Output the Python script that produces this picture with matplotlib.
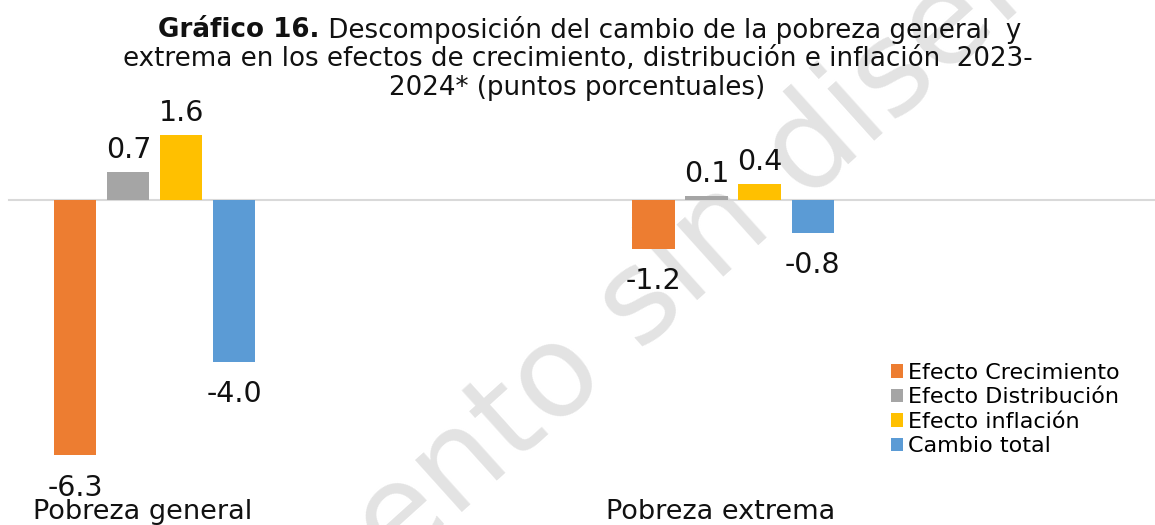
import matplotlib
matplotlib.use("Agg")
import matplotlib.pyplot as plt
import matplotlib.transforms as mtransforms
import numpy as np

# Data (puntos porcentuales)
categories = ["Pobreza general", "Pobreza extrema"]
series = ["Efecto Crecimiento", "Efecto Distribución", "Efecto inflación", "Cambio total"]
crecimiento = [-6.3, -1.2]
distribucion = [0.7, 0.1]
inflacion = [1.6, 0.4]
cambio_total = [-4.0, -0.8]
values = [crecimiento, distribucion, inflacion, cambio_total]
colors = ["#ED7D31", "#A5A5A5", "#FFC000", "#5B9BD5"]

font = "DejaVu Sans"
W, H = 1155, 525
fig = plt.figure(figsize=(W / 100, H / 100), dpi=100)
ax = fig.add_axes([0, 0, 1, 1])

# Watermark, kept behind the bars
ax.text(565 / W, 1 - 372 / H, "Documento sin diseño", transform=fig.transFigure,
        fontsize=92, color="#e3e3e3", rotation=42, ha="center", va="center",
        family=font, zorder=0.5, clip_on=False)

x = np.arange(len(categories))
step = 0.0917
width = 0.0727
for i, (name, vals, c) in enumerate(zip(series, values, colors)):
    pos = x + (i - 1.5) * step
    ax.bar(pos, vals, width, color=c, label=name, zorder=2)
    for p, v in zip(pos, vals):
        if v >= 0:
            ax.text(p, v + 0.2, f"{v:.1f}", ha="center", va="bottom", fontsize=20.5,
                    family=font, color="#111111", zorder=3)
        else:
            ax.text(p, v - 0.45, f"{v:.1f}", ha="center", va="top", fontsize=20.5,
                    family=font, color="#111111", zorder=3)

ax.axhline(0, xmin=0.008, xmax=1, color="#d9d9d9", lw=1.5, zorder=1)
ax.set_xlim(-0.268, 1.730)
ax.set_ylim(-8.02, 4.94)
ax.axis("off")

# Category labels
trans = mtransforms.blended_transform_factory(ax.transData, fig.transFigure)
for xi, cat in zip(x, categories):
    ax.text(xi - 0.022, 1 - 512 / H, cat, transform=trans, ha="center", va="center",
            fontsize=19.5, family=font, color="#111111", zorder=3)

# Title: first line has a bold lead-in
tsize = 18.8
bold = "Gráfico 16."
rest = " Descomposición del cambio de la pobreza general  y"
renderer = fig.canvas.get_renderer()
tb = fig.text(0, 0, bold, fontsize=tsize, family=font, weight="bold", color="#111111")
tr = fig.text(0, 0, rest, fontsize=tsize, family=font, color="#111111")
wb = tb.get_window_extent(renderer).width
wr = tr.get_window_extent(renderer).width
x0 = (W - wb - wr) / 2 + 12
y1 = 1 - 30 / H
tb.set_position((x0 / W, y1))
tb.set_va("center")
tr.set_position(((x0 + wb) / W, y1))
tr.set_va("center")
fig.text(0.5, 1 - 59 / H, "extrema en los efectos de crecimiento, distribución e inflación  2023-",
         ha="center", va="center", fontsize=tsize, family=font, color="#111111")
fig.text(0.5, 1 - 88 / H, "2024* (puntos porcentuales)",
         ha="center", va="center", fontsize=tsize, family=font, color="#111111")

leg = ax.legend(loc="upper left", bbox_to_anchor=(891 / W, 1 - 363 / H), frameon=False,
                prop={"family": font, "size": 16}, handlelength=0.55, handleheight=0.55,
                handletextpad=0.23, labelspacing=0.2, borderaxespad=0, borderpad=0)
leg.set_zorder(4)

fig.savefig("out.png", dpi=100)
